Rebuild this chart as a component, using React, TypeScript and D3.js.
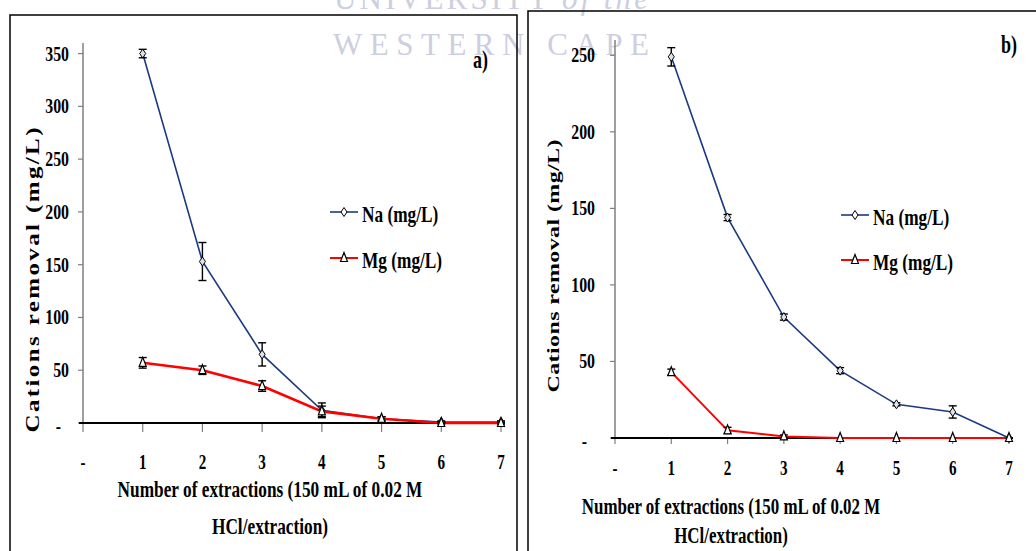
import React from 'react';
import * as d3 from 'd3';

// extraction number (x) and cation removal values
const extractions = [1, 2, 3, 4, 5, 6, 7];

const naA = [350, 153, 65, 12, 4, 1, 1];
const naAErr = [4, 18, 11, 7, 2, 1, 1];
const mgA = [57, 50, 35, 11, 4, 0, 0];
const mgAErr = [5, 4, 5, 5, 2, 1, 1];

const naB = [249, 144, 79, 44, 22, 17, 0];
const naBErr = [6, 2, 2, 2, 1, 4, 0];
const mgB = [43, 5, 1, 0, 0, 0, 0];
const mgBErr = [2, 2, 1, 0, 0, 0, 0];

const xTicks = [0, 1, 2, 3, 4, 5, 6, 7];
const xTickLabels = ['-', '1', '2', '3', '4', '5', '6', '7'];
const yTicksA = [0, 50, 100, 150, 200, 250, 300, 350];
const yTicksB = [0, 50, 100, 150, 200, 250];

const FONT = '"Liberation Serif", "Times New Roman", serif';
const SX = 0.72; // the figure is squeezed horizontally
const NA_COLOR = '#1b3a80';
const MG_COLOR = '#ff0000';

const T = ({ x, y, size, anchor = 'start', children, fill = '#000' }) => (
  <text
    transform={`translate(${x},${y}) scale(${SX},1)`}
    textAnchor={anchor}
    fontFamily={FONT}
    fontWeight="bold"
    fontSize={size}
    fill={fill}
  >
    {children}
  </text>
);

const diamond = (cx, cy) => `M${cx},${cy - 4.5}L${cx + 3},${cy}L${cx},${cy + 4.5}L${cx - 3},${cy}Z`;
const triangle = (cx, cy) => `M${cx},${cy - 5.5}L${cx + 3.5},${cy + 3.5}L${cx - 3.5},${cy + 3.5}Z`;

const Panel = ({ p, na, naErr, mg, mgErr, yTicks }) => {
  const x = d3.scaleLinear().domain([0, 7]).range(p.xRange);
  const y = d3.scaleLinear().domain(p.yDomain).range(p.yRange);
  const line = d3.line().x((d, i) => x(extractions[i])).y(d => y(d));
  const x0 = x(0);
  const y0 = y(0);

  const errBars = (vals, errs) =>
    vals.map((v, i) =>
      errs[i] > 0 ? (
        <g key={i} stroke="#000" strokeWidth={1.4}>
          <line x1={x(extractions[i])} x2={x(extractions[i])} y1={y(v + errs[i])} y2={y(v - errs[i])} />
          <line x1={x(extractions[i]) - 4} x2={x(extractions[i]) + 4} y1={y(v + errs[i])} y2={y(v + errs[i])} />
          <line x1={x(extractions[i]) - 4} x2={x(extractions[i]) + 4} y1={y(v - errs[i])} y2={y(v - errs[i])} />
        </g>
      ) : null
    );

  return (
    <g>
      {/* y axis */}
      <line x1={x0} x2={x0} y1={y(p.yDomain[1])} y2={y0} stroke="#7f7f7f" strokeWidth={1.5} />
      {yTicks.map(t => (
        <g key={t}>
          <line x1={x0 - 5} x2={x0} y1={y(t)} y2={y(t)} stroke="#7f7f7f" strokeWidth={1.2} />
          <T x={x0 - p.yLabelGap + (t === 0 ? -8 : 0)} y={y(t) + 7 + (t === 0 ? 3 : 0)} size={22} anchor="end">
            {t === 0 ? '-' : String(t)}
          </T>
        </g>
      ))}
      {/* x axis */}
      {xTicks.map((t, i) => (
        <g key={t}>
          <line x1={x(t)} x2={x(t)} y1={y0} y2={y0 + p.xTickLen} stroke="#7f7f7f" strokeWidth={1.2} />
          <T x={x(t)} y={p.xLabelY} size={21} anchor="middle">{xTickLabels[i]}</T>
        </g>
      ))}
      <line x1={x0 - 4} x2={x(7) + 4} y1={y0} y2={y0} stroke="#000" strokeWidth={2} />

      {/* series */}
      <path d={line(na)} fill="none" stroke={NA_COLOR} strokeWidth={1.6} />
      <path d={line(mg)} fill="none" stroke={MG_COLOR} strokeWidth={p.mgWidth} />
      {errBars(na, naErr)}
      {errBars(mg, mgErr)}
      {na.map((v, i) => (
        <path key={'n' + i} d={diamond(x(extractions[i]), y(v))} fill="#dfe3ee" stroke="#000" strokeWidth={1} />
      ))}
      {mg.map((v, i) => (
        <path key={'m' + i} d={triangle(x(extractions[i]), y(v))} fill="#fff" stroke="#000" strokeWidth={1.2} />
      ))}

      {/* legend */}
      <line x1={p.legX} x2={p.legX + 28} y1={p.legY1} y2={p.legY1} stroke={NA_COLOR} strokeWidth={1.6} />
      <path d={diamond(p.legX + 14, p.legY1)} fill="#fff" stroke="#000" strokeWidth={1} />
      <T x={p.legX + 32} y={p.legY1 + 10} size={24}>Na (mg/L)</T>
      <line x1={p.legX} x2={p.legX + 28} y1={p.legY2} y2={p.legY2} stroke={MG_COLOR} strokeWidth={2} />
      <path d={triangle(p.legX + 14, p.legY2)} fill="#fff" stroke="#000" strokeWidth={1.2} />
      <T x={p.legX + 32} y={p.legY2 + 10} size={24}>Mg (mg/L)</T>

      {/* titles */}
      <text
        transform={`translate(${p.yTitleX},${p.yTitleY}) scale(${SX},1) rotate(-90)`}
        textAnchor="middle"
        fontFamily={FONT}
        fontWeight="bold"
        fontSize={p.yTitleSize}
        textLength={p.yTitleLen}
        lengthAdjust="spacing"
      >
        Cations removal (mg/L)
      </text>
      <T x={p.xTitleX} y={p.xTitleY1} size={p.xTitleSize} anchor="middle">Number of extractions (150 mL of 0.02 M</T>
      <T x={p.xTitleX} y={p.xTitleY2} size={p.xTitleSize} anchor="middle">HCl/extraction)</T>
      <T x={p.tagX} y={p.tagY} size={25}>{p.tag}</T>
    </g>
  );
};

const panelA = {
  xRange: [83, 501], yDomain: [0, 360], yRange: [423, 43],
  yLabelGap: 14, xTickLen: 9, xLabelY: 469, mgWidth: 2.6,
  legX: 330, legY1: 212, legY2: 258,
  yTitleX: 39, yTitleY: 280, yTitleLen: 305, yTitleSize: 25,
  xTitleX: 270, xTitleY1: 497, xTitleY2: 534, xTitleSize: 24,
  tag: 'a)', tagX: 473, tagY: 68,
};

const panelB = {
  xRange: [615, 1009], yDomain: [0, 260], yRange: [438, 40],
  yLabelGap: 20, xTickLen: 6, xLabelY: 475, mgWidth: 2,
  legX: 841, legY1: 215, legY2: 260,
  yTitleX: 559, yTitleY: 266, yTitleLen: 253, yTitleSize: 24,
  xTitleX: 731, xTitleY1: 514, xTitleY2: 543, xTitleSize: 23.5,
  tag: 'b)', tagX: 1001, tagY: 53,
};

export default function App() {
  return (
    <svg width={1036} height={551} style={{ position: 'absolute', left: 0, top: 0, background: '#fff' }}>
      <rect width={1036} height={551} fill="#fff" />
      {/* watermark */}
      <text x={334} y={9} fontFamily={FONT} fontSize={31} fill="#cdcee0" textLength={314} lengthAdjust="spacing">
        UNIVERSITY <tspan fontStyle="italic">of the</tspan>
      </text>
      <text x={333} y={55} fontFamily={FONT} fontSize={31} fill="#cdcee0" textLength={316} lengthAdjust="spacing">
        WESTERN CAPE
      </text>
      {/* frames */}
      <rect x={10} y={15} width={507} height={560} fill="none" stroke="#000" strokeWidth={1.5} />
      <rect x={528} y={11} width={520} height={560} fill="none" stroke="#000" strokeWidth={1.5} />
      <Panel p={panelA} na={naA} naErr={naAErr} mg={mgA} mgErr={mgAErr} yTicks={yTicksA} />
      <Panel p={panelB} na={naB} naErr={naBErr} mg={mgB} mgErr={mgBErr} yTicks={yTicksB} />
    </svg>
  );
}
